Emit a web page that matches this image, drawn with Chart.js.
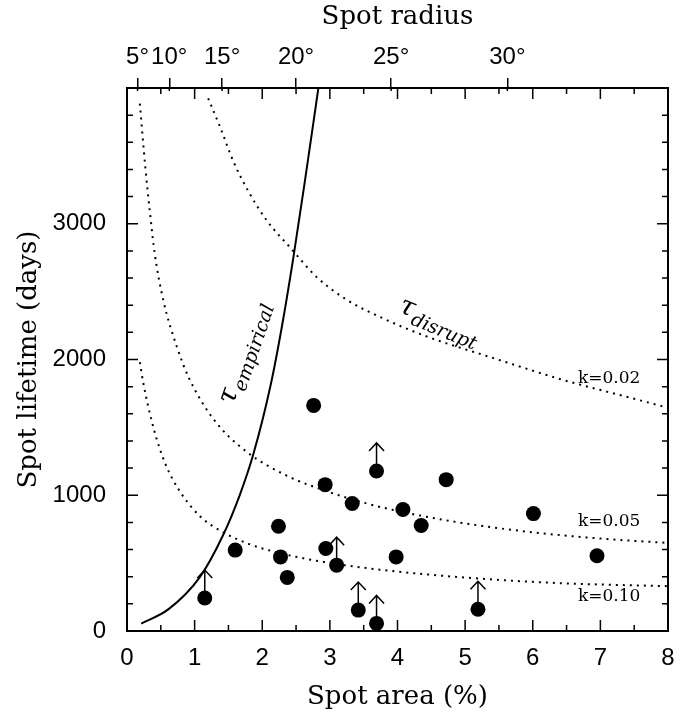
<!DOCTYPE html>
<html><head><meta charset="utf-8">
<script src="https://cdn.jsdelivr.net/npm/chart.js@4.4.1/dist/chart.umd.min.js"></script>
<style>html,body{margin:0;padding:0;background:#fff}</style>
</head><body>
<canvas id="c" width="690" height="713"></canvas>
<script>
// ---- data ----
const spotArea  = [1.15, 1.60, 2.24, 2.27, 2.37, 2.76, 2.93, 2.94, 3.10, 3.33, 3.42, 3.69, 3.69, 3.98, 4.08, 4.35, 4.72, 5.19, 6.01, 6.95];
const spotLife  = [243, 596, 772, 546, 395, 1662, 1078, 608, 485, 939, 154, 1179, 56, 546, 895, 777, 1115, 160, 865, 554];
const lowerLimit= [1, 0, 0, 0, 0, 0, 0, 0, 1, 0, 1, 1, 1, 0, 0, 0, 0, 1, 0, 0];

const empArea = [0.21, 0.61, 1.08, 1.42, 1.67, 1.87, 2.13, 2.29, 2.46, 2.63, 2.83];
const empLife = [55, 159, 399, 705, 1005, 1305, 1825, 2241, 2751, 3312, 4000];

const k10Area = [0.19, 0.24, 0.39, 0.56, 0.78, 1.08, 1.42, 1.82, 2.36, 3.05, 3.74, 4.50, 5.22, 6.00, 6.70, 8.00];
const k10Life = [1980, 1830, 1500, 1240, 1030, 845, 728, 638, 562, 497, 452, 414, 386, 362, 347, 330];

const k05Area = [0.19, 0.27, 0.34, 0.41, 0.54, 0.74, 0.91, 1.28, 1.77, 2.36, 2.95, 3.54, 4.04, 4.60, 5.22, 6.21, 7.19, 8.00];
const k05Life = [3885, 3420, 3080, 2780, 2430, 2090, 1870, 1560, 1320, 1145, 1030, 940, 880, 826, 776, 716, 674, 649];

const k02Area = [1.20, 1.38, 1.57, 1.79, 2.07, 2.41, 2.81, 3.25, 3.80, 4.43, 5.42, 6.41, 7.39, 8.00];
const k02Life = [3924, 3708, 3463, 3243, 3022, 2826, 2605, 2440, 2300, 2170, 2010, 1855, 1725, 1645];

const areaTicks = [0, 1, 2, 3, 4, 5, 6, 7, 8];
const lifeTicks = [0, 1000, 2000, 3000];
const radiusLabels = ['5°', '10°', '15°', '20°', '25°', '30°'];
const radiusArea   = [0.156, 0.625, 1.406, 2.5, 3.906, 5.625];

const kLabels    = ['k=0.02', 'k=0.05', 'k=0.10'];
const kLabelArea = [7.13, 7.13, 7.13];
const kLabelLife = [1860, 809, 250];

// ---- styling ----
const SERIF = '"DejaVu Serif", serif';
const SANS = '"Liberation Sans", Arial, sans-serif';
const pts = (xs, ys) => xs.map((x, i) => ({x: x, y: ys[i]}));
const dotted = {showLine: true, pointRadius: 0, borderColor: '#000', borderWidth: 2, borderDash: [2, 5], cubicInterpolationMode: 'monotone', fill: false};

const frameTicks = {
  id: 'frameTicks',
  afterDatasetsDraw(chart) {
    const {ctx, chartArea: a, scales} = chart;
    const xs = scales.x, ys = scales.y;
    ctx.save();
    ctx.strokeStyle = '#000';
    ctx.lineWidth = 1.5;
    ctx.beginPath();
    for (let v = 0; v <= 8.001; v += 0.5) {
      const px = xs.getPixelForValue(v);
      const L = Math.abs(v - Math.round(v)) < 1e-6 ? 11 : 6;
      ctx.moveTo(px, a.bottom); ctx.lineTo(px, a.bottom - L);
      ctx.moveTo(px, a.top); ctx.lineTo(px, a.top + L);
    }
    for (let v = 0; v <= 4000; v += 200) {
      const py = ys.getPixelForValue(v);
      const L = v % 1000 === 0 ? 11 : 6;
      ctx.moveTo(a.left, py); ctx.lineTo(a.left + L, py);
      ctx.moveTo(a.right, py); ctx.lineTo(a.right - L, py);
    }
    radiusArea.forEach(v => {
      const px = xs.getPixelForValue(v);
      ctx.moveTo(px, a.top); ctx.lineTo(px, a.top + 3);
    });
    ctx.stroke();
    ctx.lineWidth = 2;
    ctx.strokeRect(a.left, a.top, a.right - a.left, a.bottom - a.top);
    // arrows for lower limits
    const meta = chart.getDatasetMeta(4);
    ctx.lineWidth = 1.5;
    ctx.beginPath();
    meta.data.forEach((el, i) => {
      if (!lowerLimit[i]) return;
      const x = el.x, y = el.y, tip = y - 28;
      ctx.moveTo(x, y); ctx.lineTo(x, tip);
      ctx.moveTo(x - 7.5, tip + 8); ctx.lineTo(x, tip); ctx.lineTo(x + 7.5, tip + 8);
    });
    ctx.stroke();
    // curve labels
    ctx.fillStyle = '#000';
    ctx.textAlign = 'center';
    ctx.textBaseline = 'middle';
    ctx.font = '17px ' + SERIF;
    kLabels.forEach((t, i) => {
      ctx.fillText(t, xs.getPixelForValue(kLabelArea[i]), ys.getPixelForValue(kLabelLife[i]));
    });
    const tauLabel = (ax, ay, ang, sub) => {
      ctx.save();
      ctx.translate(xs.getPixelForValue(ax), ys.getPixelForValue(ay));
      ctx.rotate(ang * Math.PI / 180);
      ctx.textAlign = 'left';
      ctx.textBaseline = 'alphabetic';
      ctx.font = 'italic 27px ' + SERIF;
      ctx.fillText('τ', 0, 0);
      const w = ctx.measureText('τ').width;
      ctx.font = 'italic 19px ' + SERIF;
      ctx.fillText(sub, w + 1, 7);
      ctx.restore();
    };
    tauLabel(1.57, 1662, -71, 'empirical');
    tauLabel(4.0, 2353, 22, 'disrupt');
    ctx.restore();
  }
};

new Chart(document.getElementById('c'), {
  type: 'scatter',
  data: {
    datasets: [
      Object.assign({label: 'k=0.02', data: pts(k02Area, k02Life)}, dotted),
      Object.assign({label: 'k=0.05', data: pts(k05Area, k05Life)}, dotted),
      Object.assign({label: 'k=0.10', data: pts(k10Area, k10Life)}, dotted),
      {label: 'empirical', data: pts(empArea, empLife), showLine: true, pointRadius: 0, borderColor: '#000', borderWidth: 2, cubicInterpolationMode: 'monotone', fill: false},
      {label: 'spots', data: pts(spotArea, spotLife), pointRadius: 7.5, pointHoverRadius: 7.5, backgroundColor: '#000', borderColor: '#000', borderWidth: 0, clip: false}
    ]
  },
  options: {
    responsive: false,
    animation: false,
    layout: {padding: {left: 0, right: 22, top: 0, bottom: 0}},
    plugins: {legend: {display: false}, tooltip: {enabled: false}},
    scales: {
      x: {
        type: 'linear', position: 'bottom', min: 0, max: 8,
        afterBuildTicks: s => { s.ticks = areaTicks.map(v => ({value: v})); },
        afterFit: s => { s.height = 82; },
        grid: {display: false}, border: {display: false},
        ticks: {color: '#000', font: {family: SANS, size: 24}, padding: 5, maxRotation: 0, autoSkip: false,
                callback: v => String(v)},
        title: {display: true, text: 'Spot area (%)', color: '#000', font: {family: SERIF, size: 26}, padding: {top: 0, bottom: 0}}
      },
      x2: {
        type: 'linear', position: 'top', min: 0, max: 8,
        afterBuildTicks: s => { s.ticks = radiusArea.map(v => ({value: v})); },
        afterFit: s => { s.height = 88; },
        grid: {display: true, drawOnChartArea: false, drawTicks: true, tickLength: 10, color: '#000', lineWidth: 1.5},
        border: {display: false},
        ticks: {color: '#000', font: {family: SANS, size: 24}, padding: 6, maxRotation: 0, minRotation: 0, autoSkip: false,
                callback: (v, i) => radiusLabels[i]},
        title: {display: true, text: 'Spot radius', color: '#000', font: {family: SERIF, size: 26}, padding: {top: 2, bottom: 0}}
      },
      y: {
        type: 'linear', position: 'left', min: 0, max: 4000,
        afterBuildTicks: s => { s.ticks = lifeTicks.map(v => ({value: v})); },
        afterFit: s => { s.width = 127; },
        grid: {display: false}, border: {display: false},
        ticks: {color: '#000', font: {family: SANS, size: 24}, padding: 13, callback: v => String(v)},
        title: {display: true, text: 'Spot lifetime (days)', color: '#000', font: {family: SERIF, size: 26}, padding: {top: 14, bottom: 0}}
      }
    }
  },
  plugins: [frameTicks]
});
</script>
</body></html>
